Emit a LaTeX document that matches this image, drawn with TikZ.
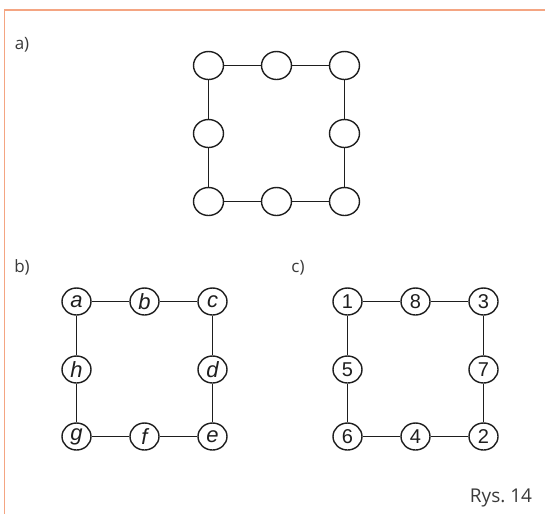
\documentclass[tikz,border=0pt]{standalone}
\usepackage{fontspec}
\setmainfont{Open Sans}
\newfontfamily\labelfont{Liberation Sans}
\usetikzlibrary{shapes.geometric}
\definecolor{framecol}{HTML}{F4A582}
\definecolor{ink}{HTML}{1E1E1E}
\definecolor{captioncol}{HTML}{3A3A3A}
\tikzset{
  vertex/.style={ellipse, draw=ink, line width=1.4pt, fill=white,
    minimum width=29pt, minimum height=27pt, inner sep=0pt,
    font=\labelfont\fontsize{20}{20}\selectfont, text=ink},
  letter/.style={vertex, font=\labelfont\itshape\fontsize{22}{22}\selectfont},
  bigvertex/.style={vertex, minimum width=30pt, minimum height=28pt},
  edge/.style={draw=ink, line width=1.4pt},
  partlabel/.style={font=\fontsize{17}{17}\selectfont, text=captioncol, inner sep=0pt},
  framestroke/.style={draw=framecol, line width=1.6pt}
}
\begin{document}
\begin{tikzpicture}[x=1pt, y=-1pt]
\useasboundingbox (0,0) rectangle (545,514);
% page frame
\draw[framestroke] (545,10) -- (4.5,10) -- (4.5,514);

% part a): empty cycle
\node[partlabel] (la) at (22,45) {a)};
\node[bigvertex] (a1) at (208.5,65.5) {};
\node[bigvertex] (a2) at (276.5,65.5) {};
\node[bigvertex] (a3) at (344.5,65.5) {};
\node[bigvertex] (a4) at (344.5,133.5) {};
\node[bigvertex] (a5) at (344.5,201.5) {};
\node[bigvertex] (a6) at (276.5,201.5) {};
\node[bigvertex] (a7) at (208.5,201.5) {};
\node[bigvertex] (a8) at (208.5,133.5) {};
\foreach \u/\v in {a1/a2,a2/a3,a3/a4,a4/a5,a5/a6,a6/a7,a7/a8,a8/a1}
  \draw[edge] (\u) -- (\v);

% part b): lettered cycle
\node[partlabel] (lb) at (22,267.5) {b)};
\node[letter] (ba) at (76.5,301.5) {a};
\node[letter] (bb) at (144.5,301.5) {b};
\node[letter] (bc) at (212.5,301.5) {c};
\node[letter] (bd) at (212.5,369.5) {d};
\node[letter] (be) at (212.5,436.5) {e};
\node[letter] (bf) at (144.5,436.5) {f};
\node[letter] (bg) at (76.5,436.5) {g};
\node[letter] (bh) at (76.5,369.5) {h};
\foreach \u/\v in {ba/bb,bb/bc,bc/bd,bd/be,be/bf,bf/bg,bg/bh,bh/ba}
  \draw[edge] (\u) -- (\v);

% part c): numbered cycle
\node[partlabel] (lc) at (298,267.5) {c)};
\node[vertex] (c1) at (347.5,301.5) {1};
\node[vertex] (c8) at (415.5,301.5) {8};
\node[vertex] (c3) at (483.5,301.5) {3};
\node[vertex] (c7) at (483.5,369.5) {7};
\node[vertex] (c2) at (483.5,436.5) {2};
\node[vertex] (c4) at (415.5,436.5) {4};
\node[vertex] (c6) at (347.5,436.5) {6};
\node[vertex] (c5) at (347.5,369.5) {5};
\foreach \u/\v in {c1/c8,c8/c3,c3/c7,c7/c2,c2/c4,c4/c6,c6/c5,c5/c1}
  \draw[edge] (\u) -- (\v);

% caption
\node[partlabel, font=\fontsize{19}{19}\selectfont] (cap) at (501,497.5) {Rys.\ 14};
\end{tikzpicture}
\end{document}
